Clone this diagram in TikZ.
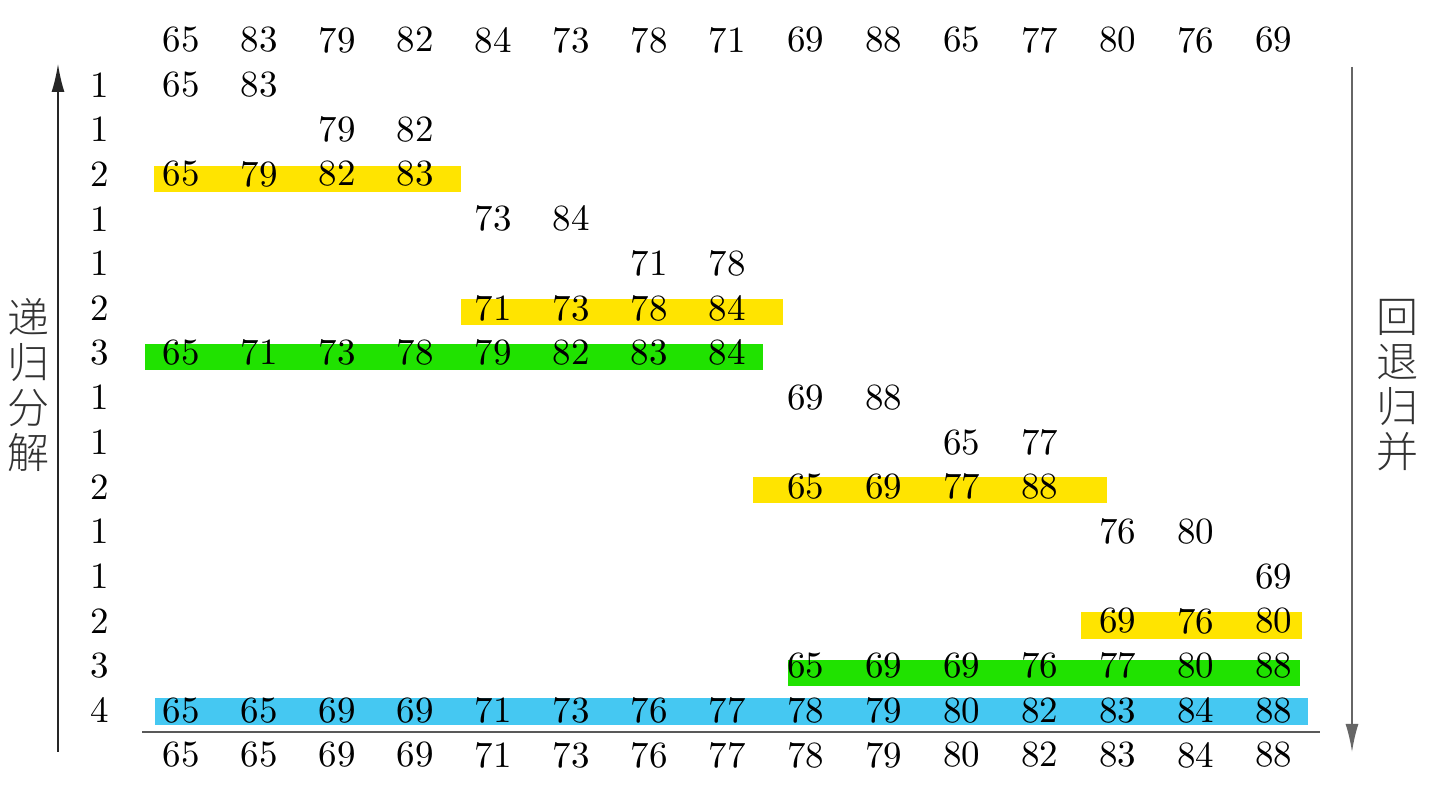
\documentclass[tikz,border=0pt]{standalone}
\usepackage{fontspec}
\newfontfamily\cjk{Noto Sans CJK SC Light}
\newfontfamily\numfont{lmroman10-regular.otf}
\usetikzlibrary{arrows.meta}
\definecolor{barY}{RGB}{255,228,0}
\definecolor{barG}{RGB}{32,226,0}
\definecolor{barB}{RGB}{69,200,242}
\definecolor{txtgray}{RGB}{50,50,50}
\begin{document}
\begin{tikzpicture}[x=0.5pt,y=-0.5pt,
  num/.style={inner sep=0pt,font=\numfont\fontsize{18.5}{20}\selectfont},
  lvl/.style={num},
  vtext/.style={inner sep=0pt,align=center,text=txtgray,font=\cjk\fontsize{21}{22.5}\selectfont},
  arrL/.style={draw=black!85,line width=0.8pt,-{Latex[length=14pt,width=6.5pt]}},
  arrR/.style={draw=black!60,line width=0.9pt,-{Latex[length=14pt,width=6.5pt]}},
  rule/.style={draw=black!65,line width=1.2pt}]
\useasboundingbox (0,0) rectangle (1437,790);
\fill[white] (0,0) rectangle (1437,790);
% highlight bars
\fill[barY] (154,166) rectangle (461,192);
\fill[barY] (461,299) rectangle (783,325);
\fill[barG] (145,344) rectangle (763,370);
\fill[barY] (753,477) rectangle (1107,503);
\fill[barY] (1081,612) rectangle (1302,639);
\fill[barG] (788,660) rectangle (1300,686);
\fill[barB] (155,698) rectangle (1308,725);
% numbers
\foreach \r/\c/\vals in {
  0/0/{65,83,79,82,84,73,78,71,69,88,65,77,80,76,69},
  1/0/{65,83},
  2/2/{79,82},
  3/0/{65,79,82,83},
  4/4/{73,84},
  5/6/{71,78},
  6/4/{71,73,78,84},
  7/0/{65,71,73,78,79,82,83,84},
  8/8/{69,88},
  9/10/{65,77},
  10/8/{65,69,77,88},
  11/12/{76,80},
  12/14/{69},
  13/12/{69,76,80},
  14/8/{65,69,69,76,77,80,88},
  15/0/{65,65,69,69,71,73,76,77,78,79,80,82,83,84,88},
  16/0/{65,65,69,69,71,73,76,77,78,79,80,82,83,84,88}}{
  \foreach \v [count=\i from \c] in \vals {
    \node[num] (n\r-\i) at ({181+78.07*\i},{40+44.69*\r}) {\v};
  }
}
% level labels
\foreach \r/\l in {1/1,2/1,3/2,4/1,5/1,6/2,7/3,8/1,9/1,10/2,11/1,12/1,13/2,14/3,15/4}{
  \node[lvl] (l\r) at (100,{40+44.69*\r}) {\l};
}
% rule
\coordinate (ruleA) at (142,732);
\coordinate (ruleB) at (1320,732);
\draw[rule] (ruleA) -- (ruleB);
% arrows
\coordinate (la) at (58,752);
\coordinate (lb) at (58,64);
\draw[arrL] (la) -- (lb);
\coordinate (ra) at (1352,67);
\coordinate (rb) at (1352,752);
\draw[arrR] (ra) -- (rb);
% side texts
\node[vtext] (left) at (28,385) {递\\归\\分\\解};
\node[vtext] (right) at (1397,385) {回\\退\\归\\并};
\end{tikzpicture}
\end{document}
